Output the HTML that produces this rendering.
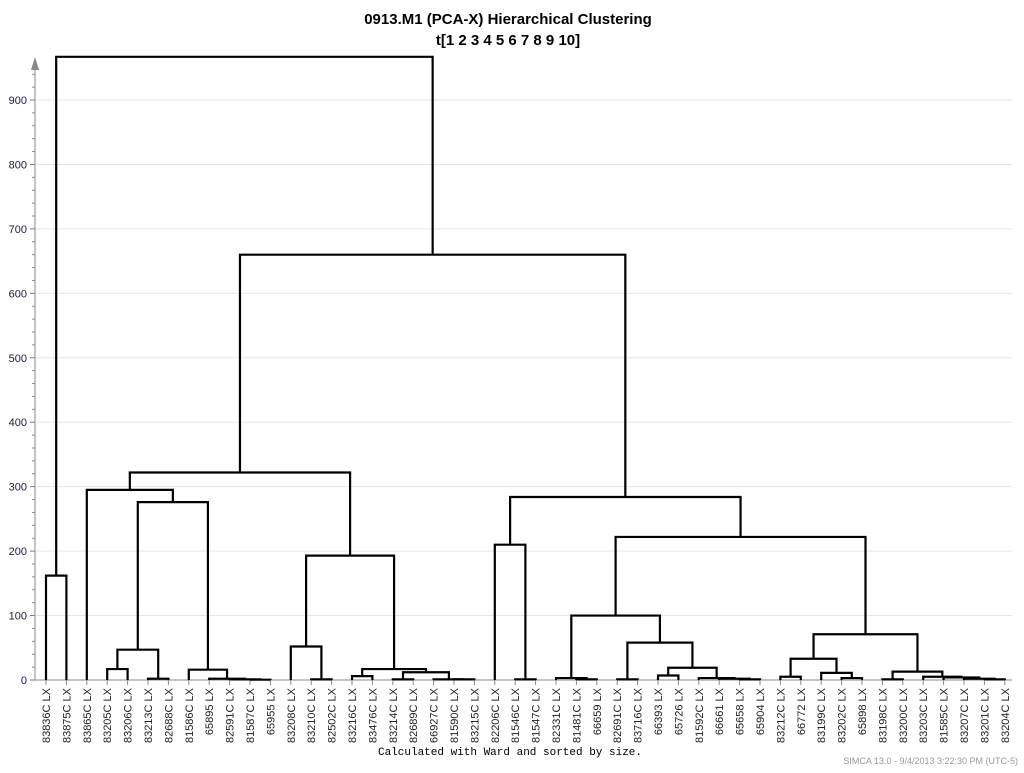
<!DOCTYPE html>
<html><head><meta charset="utf-8"><style>
body{margin:0;background:#fff;width:1024px;height:768px;overflow:hidden;font-family:"Liberation Sans",sans-serif}
</style></head><body>
<svg id="chart" width="1024" height="768" xmlns="http://www.w3.org/2000/svg">
<text x="508" y="24" text-anchor="middle" font-size="15" font-weight="bold" font-family="Liberation Sans, sans-serif">0913.M1 (PCA-X) Hierarchical Clustering</text>
<text x="508" y="45" text-anchor="middle" font-size="15" font-weight="bold" font-family="Liberation Sans, sans-serif">t[1 2 3 4 5 6 7 8 9 10]</text>
<g id="grid"></g><g id="axes"></g><g id="tree"></g><g id="labels"></g>
<text x="510" y="755" text-anchor="middle" font-size="11" font-family="Liberation Mono, monospace">Calculated with Ward and sorted by size.</text>
<text x="1018" y="764" text-anchor="end" font-size="9" fill="#999">SIMCA 13.0 - 9/4/2013 3:22:30 PM (UTC-5)</text>
</svg>
<script>
const leafLabels=["83836C LX","83875C LX","83865C LX","83205C LX","83206C LX","83213C LX","82688C LX","81586C LX","65895 LX","82591C LX","81587C LX","65955 LX","83208C LX","83210C LX","82502C LX","83216C LX","83476C LX","83214C LX","82689C LX","66927C LX","81590C LX","83215C LX","82206C LX","81546C LX","81547C LX","82331C LX","81481C LX","66659 LX","82691C LX","83716C LX","66393 LX","65726 LX","81592C LX","66661 LX","65658 LX","65904 LX","83212C LX","66772 LX","83199C LX","83202C LX","65898 LX","83198C LX","83200C LX","83203C LX","81585C LX","83207C LX","83201C LX","83204C LX"];
const yTicks=[0,100,200,300,400,500,600,700,800,900];
// merges: [left, right, height]; numbers = leaf index
const tree=[[0,1,162],[[[2,[[[3,4,17],[5,6,2],47],[7,[8,[9,[10,11,0.5],1],2],16],276],295],[[12,[13,14,1],52],[[15,16,6],[[17,18,1],[19,[20,21,1],1],12],17],193],322],[[22,[23,24,1],210],[[[25,[26,27,1],3],[[28,29,1],[[30,31,7],[32,[33,[34,35,1],2],3],19],58],100],[[[36,37,5],[38,[39,40,3],11],33],[[41,42,1],[43,[44,[45,[46,47,1],2],4],5],13],71],222],284],660],967];
const NS="http://www.w3.org/2000/svg";
const X0=46,DX=20.4,Y0=680,SC=580/900;
const xs=i=>X0+i*DX, ys=v=>Y0-v*SC;
function mk(p,t,a){const e=document.createElementNS(NS,t);for(const k in a)e.setAttribute(k,a[k]);document.getElementById(p).appendChild(e);return e;}
yTicks.forEach(v=>{
  if(v>0){const g=mk('grid','line',{x1:36,x2:1012,y1:ys(v),y2:ys(v),stroke:'#e6e6e6'});
  
  }
  const t=mk('axes','text',{x:27,y:ys(v)+4,'text-anchor':'end','font-size':11,fill:'#1a1a40'});t.textContent=v;
  
  
  mk('axes','line',{x1:30,x2:35,y1:ys(v),y2:ys(v),stroke:'#777'});
});
for(let v=20;v<960;v+=20){if(v%100)mk('axes','line',{x1:32,x2:35,y1:ys(v),y2:ys(v),stroke:'#888'});}
const ax=mk('axes','line',{x1:35,x2:35,y1:Y0,y2:62,stroke:'#888'});


const ar=mk('axes','path',{d:'M31,70 L35,57 L39,70 Z',fill:'#888'});


const xa=mk('axes','line',{x1:35,x2:1012,y1:Y0,y2:Y0,stroke:'#888'});


leafLabels.forEach((s,i)=>{
  mk('axes','line',{x1:xs(i),x2:xs(i),y1:Y0,y2:Y0+5,stroke:'#888'});
  const t=mk('labels','text',{transform:`translate(${xs(i)+4},688) rotate(-90)`,'text-anchor':'end','font-size':11,fill:'#222'});
  t.textContent=s;
  
  
});
function draw(n){
  if(typeof n==='number')return {x:xs(n),h:0};
  const a=draw(n[0]),b=draw(n[1]),h=n[2];
  const p=mk('tree','path',{d:`M${a.x},${ys(a.h)} V${ys(h)} H${b.x} V${ys(b.h)}`,fill:'none',stroke:'#000','stroke-width':2.2});
  
  
  return {x:(a.x+b.x)/2,h:h};
}
draw(tree);
</script>
</body></html>
